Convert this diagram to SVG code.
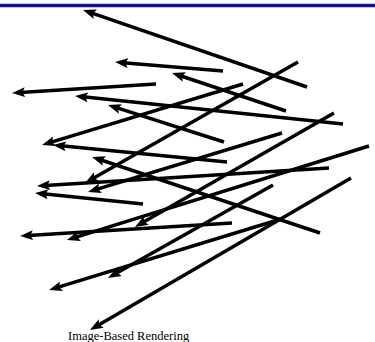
<svg xmlns="http://www.w3.org/2000/svg" width="375" height="342" viewBox="0 0 375 342">
<defs>
<marker id="ah" markerUnits="userSpaceOnUse" viewBox="0 0 13 10" markerWidth="13" markerHeight="10" refX="5" refY="5" orient="auto">
<path d="M0,0 L13,5 L0,10 L2.5,5 z" fill="#000"/>
</marker>
</defs>
<style>
.a{stroke:#000;stroke-width:3.5;fill:none;marker-end:url(#ah)}
.t{font-family:"Liberation Serif","Times New Roman",serif;font-size:12.5px;fill:#000}
</style>
<rect width="375" height="342" fill="#fff"/>
<g id="bar">
<rect x="0" y="3.5" width="375" height="4" fill="#7a7ac8"/>
<rect x="0" y="4.3" width="375" height="2.4" fill="#000080"/>
</g>
<g id="connectors">
<line class="a" x1="307" y1="87" x2="90.6" y2="12.6"/>
<line class="a" x1="223" y1="71" x2="123" y2="62.7"/>
<line class="a" x1="156" y1="84" x2="20" y2="92.5"/>
<line class="a" x1="343" y1="124" x2="83" y2="96.8"/>
<line class="a" x1="224" y1="142" x2="115.6" y2="107.4"/>
<line class="a" x1="243" y1="84" x2="49.7" y2="142.7"/>
<line class="a" x1="227" y1="162" x2="61" y2="145.8"/>
<line class="a" x1="320" y1="233" x2="99.6" y2="159.5"/>
<line class="a" x1="329" y1="168" x2="45" y2="185.5"/>
<line class="a" x1="143" y1="204" x2="43" y2="193.8"/>
<line class="a" x1="298" y1="62" x2="92" y2="179"/>
<line class="a" x1="282" y1="133" x2="95.7" y2="189.7"/>
<line class="a" x1="232" y1="223" x2="28" y2="235.5"/>
<line class="a" x1="369" y1="146" x2="74.6" y2="237.6"/>
<line class="a" x1="273" y1="185" x2="115" y2="274.1"/>
<line class="a" x1="281" y1="219" x2="56.7" y2="287.7"/>
<line class="a" x1="351" y1="178" x2="96.9" y2="326"/>
<line class="a" x1="334" y1="113" x2="141.9" y2="223"/>
<line class="a" x1="286" y1="111" x2="179.6" y2="75.5"/>
</g>
<text class="t" x="68" y="340">Image-Based Rendering</text>
</svg>
